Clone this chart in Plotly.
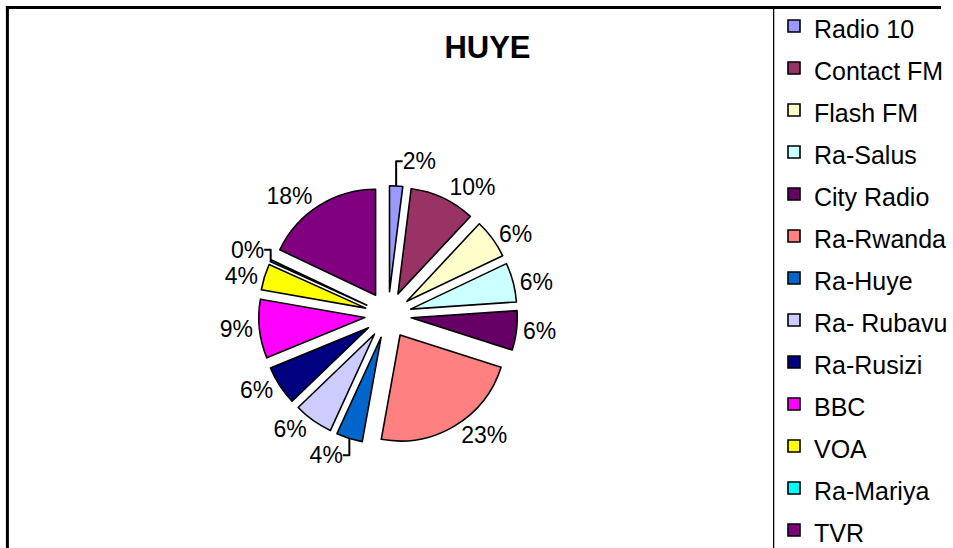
import plotly.graph_objects as go

labels = ["Radio 10", "Contact FM", "Flash FM", "Ra-Salus", "City Radio", "Ra-Rwanda",
          "Ra-Huye", "Ra- Rubavu", "Ra-Rusizi", "BBC", "VOA", "Ra-Mariya", "TVR"]
values = [2, 10, 6, 6, 6, 23, 4, 6, 6, 9, 4, 0.3, 18]
colors = ["#9999FF", "#993366", "#FFFFCC", "#CCFFFF", "#660066", "#FF8080",
          "#0066CC", "#CCCCFF", "#000080", "#FF00FF", "#FFFF00", "#00FFFF", "#800080"]
title_text = "HUYE"

W, H = 953, 548
FONT = "Arial, 'Liberation Sans', sans-serif"

legend_labels = ["<span style='font-size:25px'>%s</span>" % l for l in labels]

# pie bounding box in pixels (center, outer radius incl. pull)
cx, cy, rr = 393, 315, 131

fig = go.Figure(go.Pie(
    labels=legend_labels,
    values=values,
    sort=False,
    direction="clockwise",
    rotation=0,
    pull=0.22,
    marker=dict(colors=colors, line=dict(color="black", width=1.6)),
    textposition="outside",
    texttemplate="%{percent:.0%}",
    textfont=dict(family=FONT, size=23, color="black"),
    hoverinfo="percent",
    domain=dict(x=[(cx - rr) / W, (cx + rr) / W], y=[1 - (cy + rr) / H, 1 - (cy - rr) / H]),
))

fig.update_layout(
    width=W, height=H,
    margin=dict(l=0, r=0, t=0, b=0),
    paper_bgcolor="white",
    plot_bgcolor="white",
    font=dict(family=FONT, color="black"),
    title=dict(text="<b>%s</b>" % title_text, x=487.5 / W, y=1 - 47 / H,
               xanchor="center", yanchor="middle",
               font=dict(family=FONT, size=31, color="black")),
    legend=dict(x=784 / W, y=1 - 10 / H, xanchor="left", yanchor="top",
                font=dict(family=FONT, size=30, color="black"),
                bgcolor="rgba(0,0,0,0)", borderwidth=0, itemclick=False,
                maxheight=700),
    shapes=[
        dict(type="line", xref="paper", yref="paper", x0=6 / W, x1=1, y0=1 - 7.5 / H, y1=1 - 7.5 / H,
             line=dict(color="black", width=3)),
        dict(type="line", xref="paper", yref="paper", x0=7.5 / W, x1=7.5 / W, y0=0, y1=1 - 6 / H,
             line=dict(color="black", width=3)),
        dict(type="line", xref="paper", yref="paper", x0=783.5 / W, x1=783.5 / W, y0=0, y1=1 - 8 / H,
             line=dict(color="black", width=1.3)),
    ],
)

fig.write_html("out.html",
               config={"displayModeBar": False},
               post_script="document.body.style.margin='0';document.body.style.overflow='hidden';")
